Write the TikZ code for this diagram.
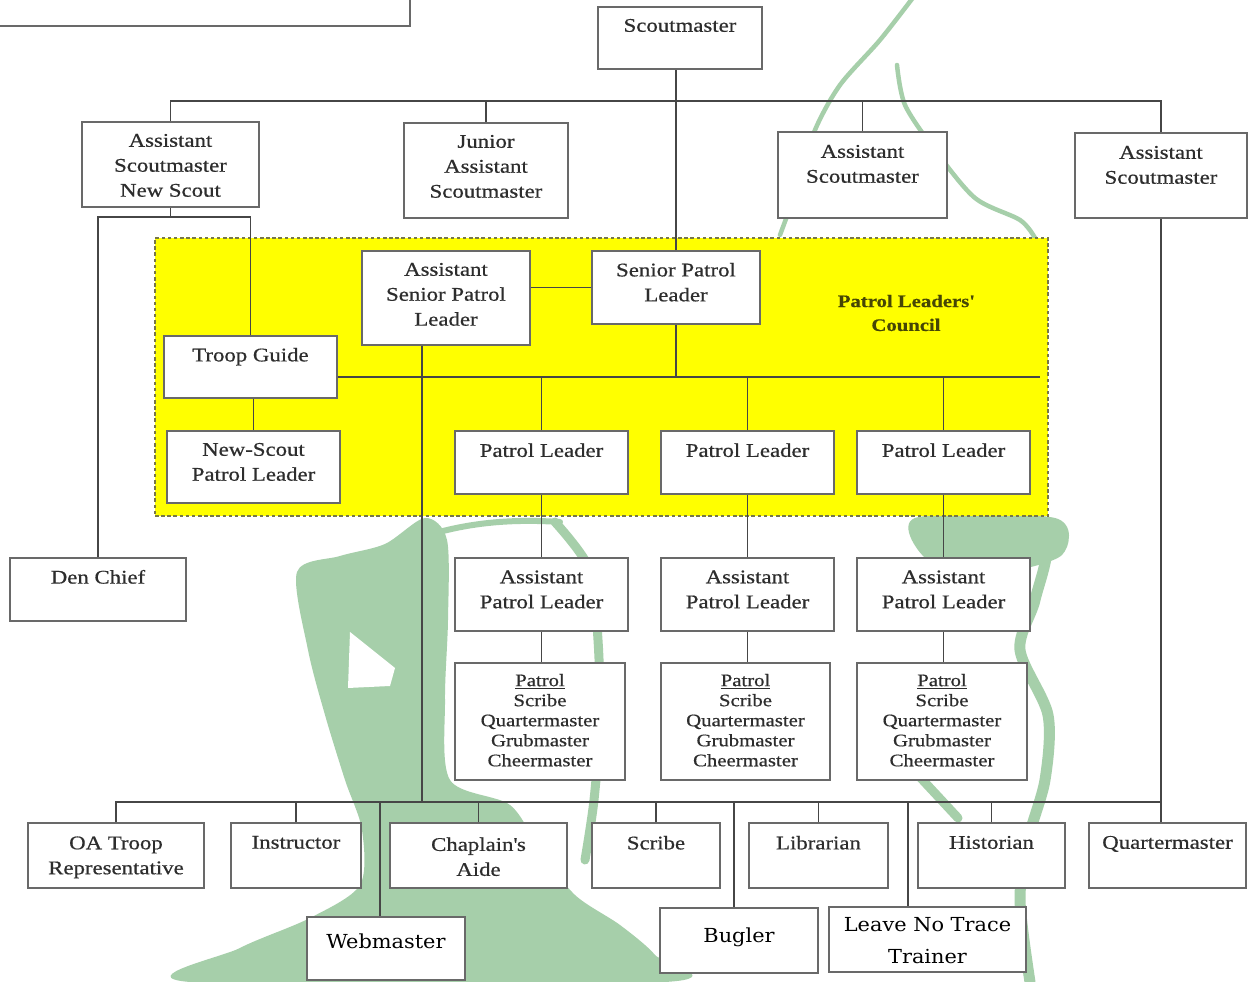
\documentclass[tikz,border=0pt]{standalone}
\usepackage{fontspec}
\setmainfont{Liberation Serif}[FakeStretch=1.18,FakeBold=0.6]
\newfontfamily\wfont{DejaVu Serif}[FakeStretch=1.08]
\usetikzlibrary{fit}
\definecolor{wm}{RGB}{166,207,170}
\definecolor{boxc}{RGB}{105,105,105}
\definecolor{linec}{RGB}{70,70,70}
\definecolor{txt}{RGB}{45,45,45}
\definecolor{plcyel}{RGB}{255,255,0}
\definecolor{plcedge}{RGB}{120,120,70}
\definecolor{plctxt}{RGB}{70,70,5}
\tikzset{
  box/.style={draw=boxc, line width=1pt, fill=white, inner sep=0pt},
  lbl/.style={anchor=north, inner sep=0pt, align=center, text=txt, font=\fontsize{11}{14.2}\selectfont},
  small/.style={lbl, font=\fontsize{10}{11.4}\selectfont},
  wlbl/.style={anchor=north, inner sep=0pt, align=center, text=black, font=\wfont\fontsize{11}{18}\selectfont},
  conn/.style={draw=linec, line width=0.9pt},
  council/.style={fill=plcyel, draw=plcedge, line width=0.7pt, dash pattern=on 2pt off 1.5pt, inner sep=0pt},
  wms/.style={draw=wm, line cap=round, line join=round},
}
\newcommand\ob[8]{\node[box, fit={(#2,#3) (#4,#5)}] (#1) {};\node[#6] (#1t) at ([yshift=-#7]#1.north) {#8};}
\begin{document}
\begin{tikzpicture}[x=0.02cm, y=-0.02cm]
\useasboundingbox (0,0) rectangle (1249,982);
\fill[white] (0,0) rectangle (1249,982);
% ---- watermark
\fill[wm] plot[smooth cycle, tension=0.5] coordinates {(297,572) (340,556) (385,544) (425,518) (447,540) (448,620) (445,700) (450,780) (510,805) (540,850) (575,895) (620,925) (655,955) (665,982) (190,982) (240,948) (310,918) (360,885) (362,830) (345,780) (325,715) (308,650)};
\fill[white] (350,632) -- (395,668) -- (390,686) -- (348,688) -- cycle;
\draw[wms, line width=0.12cm] (400,545) .. controls (450,525) and (500,518) .. (560,522);
\draw[wms, line width=0.18cm] plot[smooth] coordinates {(555,522) (590,570) (598,640) (600,720) (594,800) (585,860)};
\fill[wm] plot[smooth cycle, tension=0.5] coordinates {(915,518) (1055,518) (1062,555) (1000,572) (930,562)};
\draw[wms, line width=0.22cm] plot[smooth] coordinates {(925,535) (985,528) (1045,540) (1035,600) (1020,650) (1048,715) (1045,780) (1028,840) (1020,900) (1030,982)};
\draw[wms, line width=0.18cm] (918,775) -- (958,818);
\draw[wms, line width=0.09cm] plot[smooth] coordinates {(915,-5) (880,40) (840,85) (815,130) (800,180) (780,235)};
\draw[wms, line width=0.09cm] plot[smooth] coordinates {(897,65) (905,105) (935,150) (975,198) (1020,220) (1035,238)};
% ---- council area
\node[council, fit={(155,238) (1048,516)}] (plc) {};
\node[anchor=center, align=center, text=plctxt, font=\bfseries\fontsize{10}{13.6}\selectfont] (plct) at (906,313) {Patrol Leaders\textquotesingle\\Council};
% ---- boxes
\node[box, fit={(-10,-10) (410,26)}] (tl) {};
\ob{sm}{598}{7}{762}{69}{lbl}{0.25cm}{Scoutmaster}
\ob{asmns}{82}{122}{259}{207}{lbl}{0.25cm}{Assistant\\Scoutmaster\\New Scout}
\ob{jasm}{404}{123}{568}{218}{lbl}{0.25cm}{Junior\\Assistant\\Scoutmaster}
\ob{asma}{778}{132}{947}{218}{lbl}{0.27cm}{Assistant\\Scoutmaster}
\ob{asmb}{1075}{133}{1247}{218}{lbl}{0.27cm}{Assistant\\Scoutmaster}
\ob{aspl}{362}{251}{530}{345}{lbl}{0.25cm}{Assistant\\Senior Patrol\\Leader}
\ob{spl}{592}{251}{760}{324}{lbl}{0.25cm}{Senior Patrol\\Leader}
\ob{tg}{164}{336}{337}{398}{lbl}{0.25cm}{Troop Guide}
\ob{nspl}{167}{431}{340}{503}{lbl}{0.25cm}{New-Scout\\Patrol Leader}
\ob{pla}{455}{431}{628}{494}{lbl}{0.26cm}{Patrol Leader}
\ob{plb}{661}{431}{834}{494}{lbl}{0.26cm}{Patrol Leader}
\ob{plc3}{857}{431}{1030}{494}{lbl}{0.26cm}{Patrol Leader}
\ob{den}{10}{558}{186}{621}{lbl}{0.25cm}{Den Chief}
\ob{apla}{455}{558}{628}{631}{lbl}{0.26cm}{Assistant\\Patrol Leader}
\ob{aplb}{661}{558}{834}{631}{lbl}{0.26cm}{Assistant\\Patrol Leader}
\ob{aplc}{857}{558}{1030}{631}{lbl}{0.26cm}{Assistant\\Patrol Leader}
\ob{pta}{455}{663}{625}{780}{small}{0.23cm}{\underline{Patrol}\\Scribe\\Quartermaster\\Grubmaster\\Cheermaster}
\ob{ptb}{661}{663}{830}{780}{small}{0.23cm}{\underline{Patrol}\\Scribe\\Quartermaster\\Grubmaster\\Cheermaster}
\ob{ptc}{857}{663}{1027}{780}{small}{0.23cm}{\underline{Patrol}\\Scribe\\Quartermaster\\Grubmaster\\Cheermaster}
\ob{oa}{28}{823}{204}{888}{lbl}{0.28cm}{OA Troop\\Representative}
\ob{ins}{231}{823}{361}{888}{lbl}{0.27cm}{Instructor}
\ob{chap}{390}{823}{567}{888}{lbl}{0.3cm}{Chaplain\textquotesingle s\\Aide}
\ob{scr}{592}{823}{720}{888}{lbl}{0.27cm}{Scribe}
\ob{lib}{749}{823}{888}{888}{lbl}{0.27cm}{Librarian}
\ob{his}{918}{823}{1065}{888}{lbl}{0.27cm}{Historian}
\ob{qm}{1089}{823}{1246}{888}{lbl}{0.27cm}{Quartermaster}
\ob{web}{307}{917}{465}{980}{wlbl}{0.34cm}{Webmaster}
\ob{bug}{660}{908}{818}{973}{wlbl}{0.40cm}{Bugler}
\ob{lnt}{829}{907}{1026}{972}{wlbl}{0.22cm}{Leave No Trace\\Trainer}
% ---- connectors
\coordinate (tb) at (0,101);
\coordinate (nb) at (0,217);
\coordinate (mb) at (1040,377);
\coordinate (bb) at (0,802);
\coordinate (ax) at (422,0);
\coordinate (wx) at (380,0);
\coordinate (bx) at (734,0);
\coordinate (lx) at (908,0);
\draw[conn] (asmns.north) |- (asmb.north |- tb) -- (asmb.north);
\draw[conn] (jasm.north) -- (jasm.north |- tb);
\draw[conn] (asma.north) -- (asma.north |- tb);
\draw[conn] (spl.north) -- (spl.north |- sm.south);
\draw[conn] (asmns.south) -- (asmns.south |- nb);
\draw[conn] (den.north) |- (tg.north |- nb) -- (tg.north);
\draw[conn] (aspl.east |- spl.west) -- (spl.west);
\draw[conn] (tg.east |- mb) -- (mb);
\draw[conn] (spl.south) -- (spl.south |- mb);
\draw[conn] (nspl.north) -- (nspl.north |- tg.south);
\foreach \p in {a,b}{
  \draw[conn] (pl\p.north) -- (pl\p.north |- mb);
  \draw[conn] (pl\p.south) -- (apl\p.north);
  \draw[conn] (apl\p.south) -- (apl\p.south |- pt\p.north);
}
\draw[conn] (plc3.north) -- (plc3.north |- mb);
\draw[conn] (plc3.south) -- (aplc.north);
\draw[conn] (aplc.south) -- (aplc.south |- ptc.north);
\draw[conn] (aspl.south -| ax) -- (ax |- bb);
\draw[conn] (oa.north) |- (asmb.south |- bb) -- (asmb.south);
\draw[conn] (qm.north -| asmb.south) -- (asmb.south |- bb);
\foreach \n in {ins,chap,scr,lib,his}{
  \draw[conn] (\n.north) -- (\n.north |- bb);
}
\draw[conn] (wx |- bb) -- (web.north -| wx);
\draw[conn] (bx |- bb) -- (bug.north -| bx);
\draw[conn] (lx |- bb) -- (lnt.north -| lx);
\end{tikzpicture}
\end{document}
